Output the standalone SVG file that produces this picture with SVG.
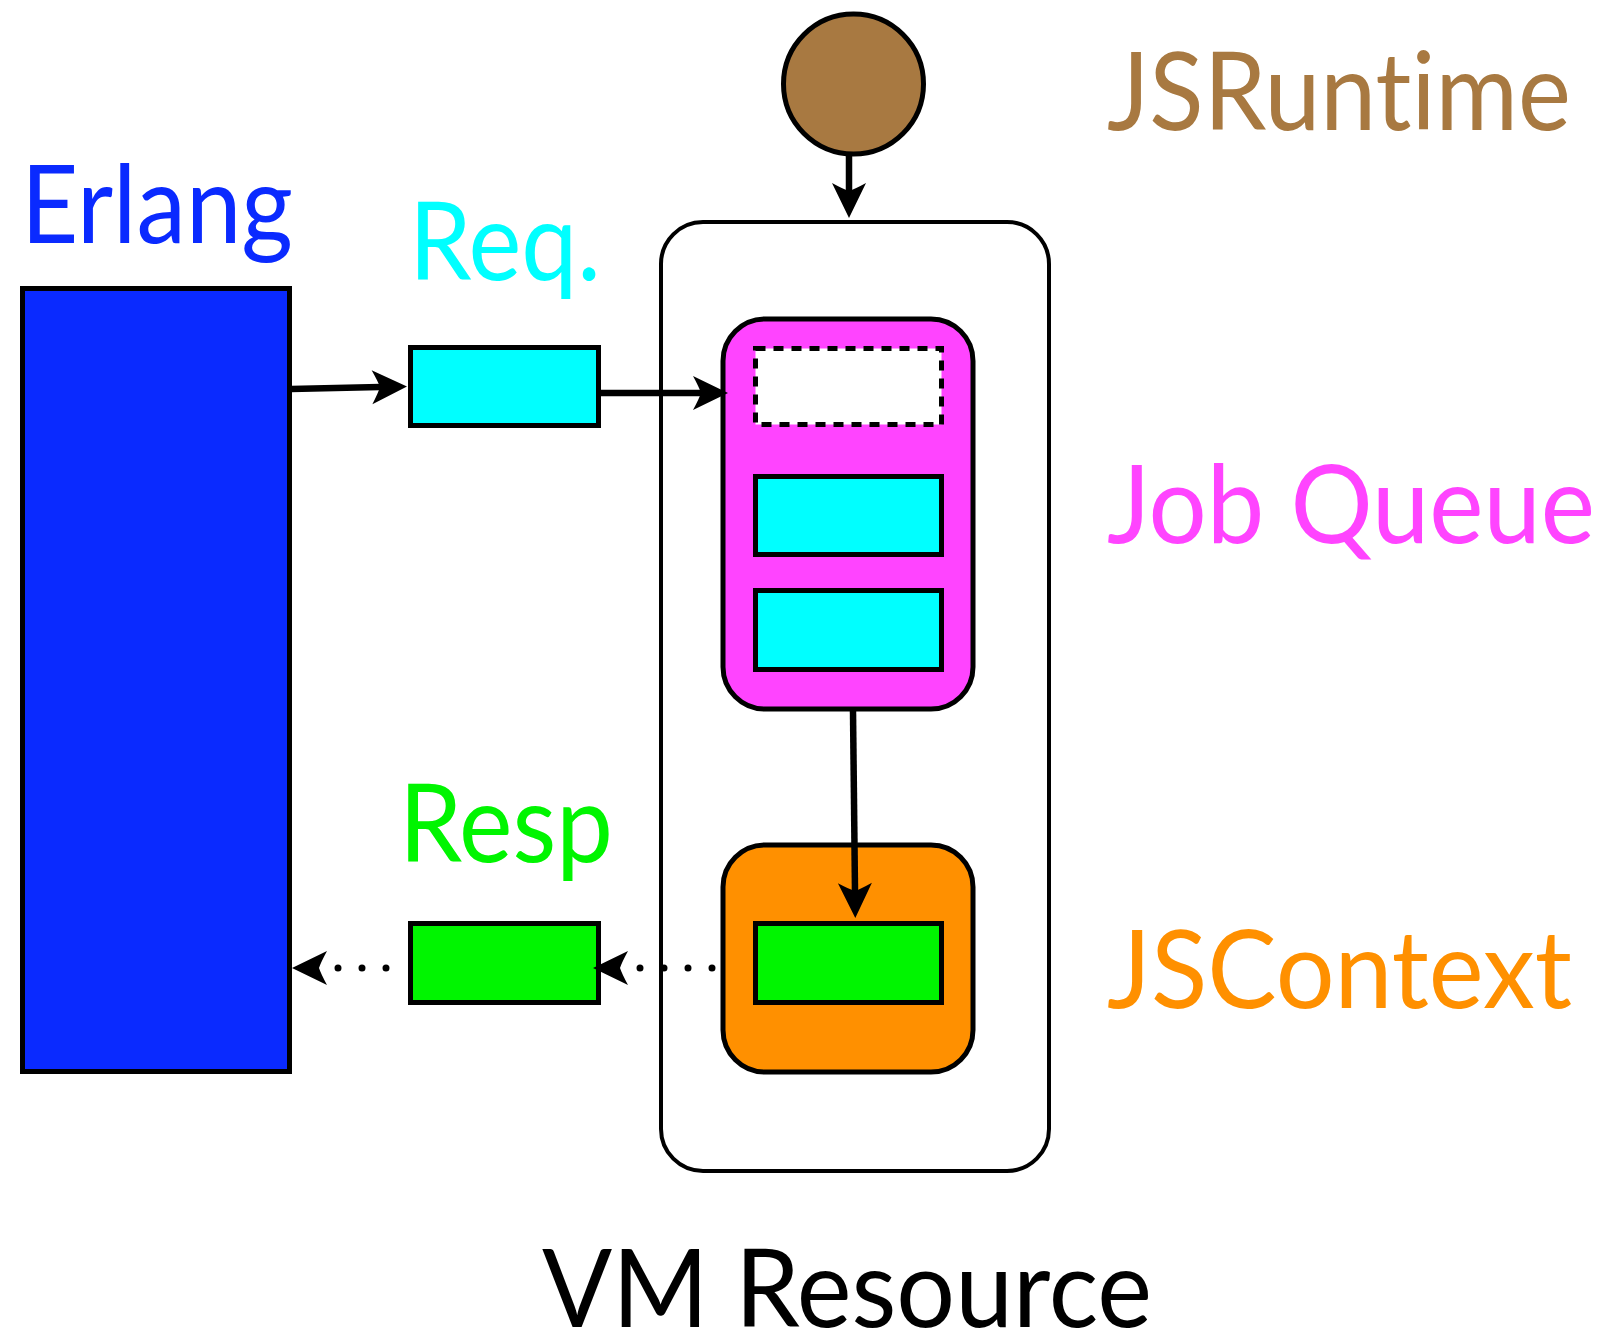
<svg xmlns="http://www.w3.org/2000/svg" width="1613" height="1335" viewBox="0 0 1613 1335">
  <style>
    .lbl { font-family: Lato, "Open Sans", "Liberation Sans", sans-serif; font-size: 108px; font-variant-ligatures: none; }
    .box { stroke: #000; stroke-width: 5; }
    .wire { fill: none; stroke: #000; stroke-width: 6.5; }
    .dots { fill: none; stroke: #000; stroke-width: 7; stroke-linecap: round; stroke-dasharray: 0 24; }
  </style>
  <defs>
    <!-- head anchored at its notch -->
    <marker id="head" viewBox="-9 -18 37 36" markerWidth="37" markerHeight="36" refX="0" refY="0" orient="auto" markerUnits="userSpaceOnUse">
      <path d="M27,0 L-8,-17 Q-2,-6 0,0 Q-2,6 -8,17 Z" fill="#000"/>
    </marker>
    <!-- head anchored at its back edge -->
    <marker id="headBack" viewBox="-1 -18 37 36" markerWidth="37" markerHeight="36" refX="0" refY="0" orient="auto" markerUnits="userSpaceOnUse">
      <path d="M35,0 L0,-17 Q6,-6 8,0 Q6,6 0,17 Z" fill="#000"/>
    </marker>
  </defs>

  <rect width="1613" height="1335" fill="#fff"/>

  <g id="erlang">
    <rect class="box" x="22.5" y="288.5" width="267" height="783" fill="#0a2aff"/>
    <text class="lbl" x="21" y="243" fill="#0a2aff" textLength="272" lengthAdjust="spacingAndGlyphs">Erlang</text>
  </g>

  <g id="request">
    <rect class="box" x="410.5" y="347.5" width="188" height="78" fill="#00ffff"/>
    <text class="lbl" x="409" y="280" fill="#00ffff" textLength="192" lengthAdjust="spacingAndGlyphs">Req.</text>
  </g>

  <g id="response">
    <rect class="box" x="410.5" y="923.5" width="188" height="79" fill="#00f500"/>
    <text class="lbl" x="399" y="862" fill="#00f500" textLength="214" lengthAdjust="spacingAndGlyphs">Resp</text>
  </g>

  <g id="jsruntime">
    <circle cx="853.5" cy="84" r="70" fill="#a87941" stroke="#000" stroke-width="5"/>
    <text class="lbl" x="1107" y="130" fill="#a87941" textLength="464" lengthAdjust="spacingAndGlyphs">JSRuntime</text>
  </g>

  <g id="vm-resource">
    <rect x="661" y="222" width="388" height="949" rx="42" ry="42" fill="none" stroke="#000" stroke-width="4"/>
    <text class="lbl" x="542" y="1327" fill="#000" textLength="610" lengthAdjust="spacingAndGlyphs">VM Resource</text>
  </g>

  <g id="job-queue">
    <rect class="box" x="723" y="319" width="250" height="390" rx="42" ry="42" fill="#ff44ff"/>
    <rect x="755.5" y="348.5" width="186" height="76" fill="#fff" stroke="#000" stroke-width="5" stroke-dasharray="10 8"/>
    <rect class="box" x="755.5" y="476.5" width="186" height="78" fill="#00ffff"/>
    <rect class="box" x="755.5" y="590.5" width="186" height="79" fill="#00ffff"/>
    <text class="lbl" x="1107" y="543" fill="#ff44ff" textLength="488" lengthAdjust="spacingAndGlyphs">Job Queue</text>
  </g>

  <g id="jscontext">
    <rect class="box" x="723" y="845" width="250" height="227" rx="42" ry="42" fill="#ff9000"/>
    <rect class="box" x="755.5" y="923.5" width="186" height="79" fill="#00f500"/>
    <text class="lbl" x="1107" y="1008" fill="#ff9000" textLength="465" lengthAdjust="spacingAndGlyphs">JSContext</text>
  </g>

  <g id="connectors">
    <path class="wire" d="M291,389 L380,387" marker-end="url(#head)"/>
    <path class="wire" d="M601,393 L701,393" marker-end="url(#head)"/>
    <path class="wire" d="M849,156 L849,191" marker-end="url(#head)"/>
    <path class="wire" d="M853,711 L855,891" marker-end="url(#head)"/>
    <path class="dots" d="M386,968 L327,968" marker-end="url(#headBack)"/>
    <path class="dots" d="M712,968 L628,968" marker-end="url(#headBack)"/>
  </g>
</svg>
